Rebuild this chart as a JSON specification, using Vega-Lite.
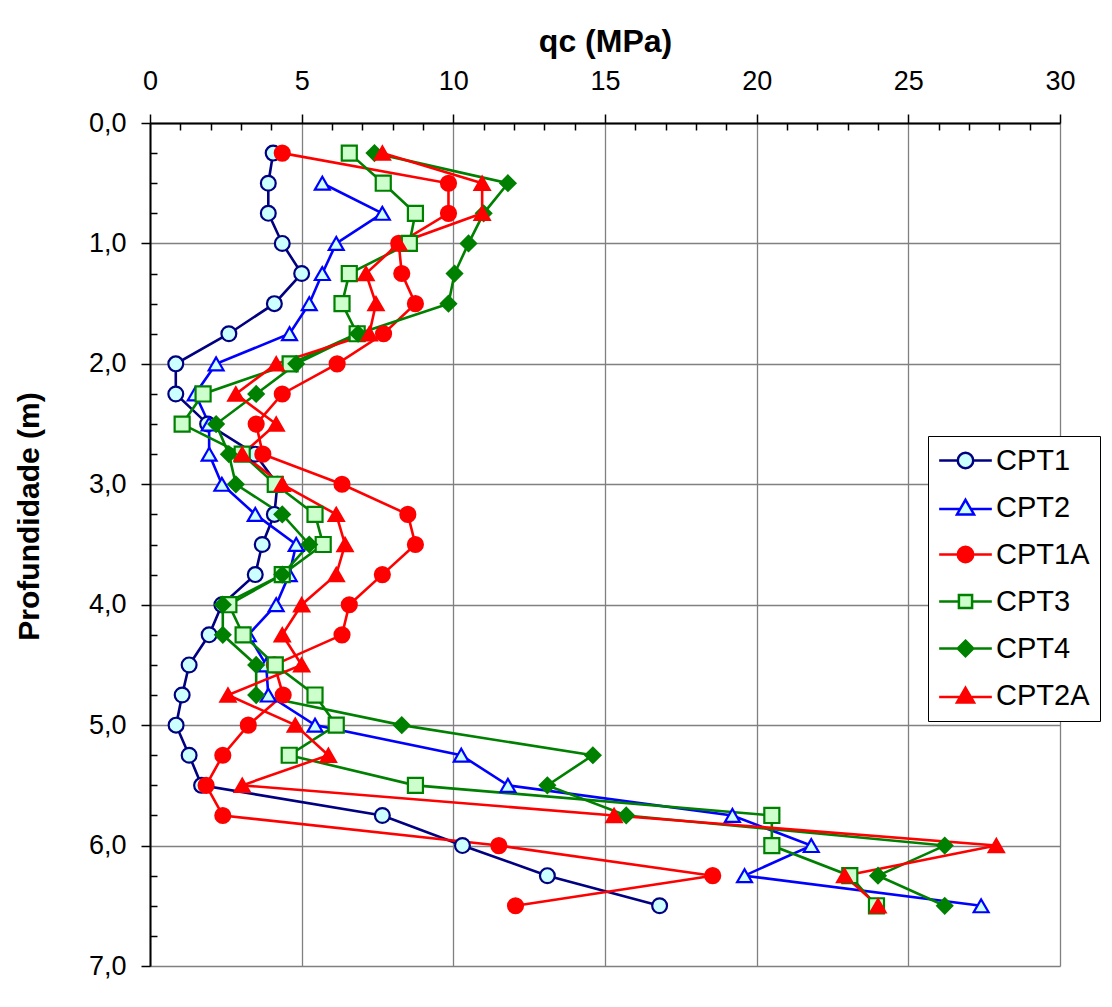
{
  "$schema": "https://vega.github.io/schema/vega-lite/v6.json",
  "width": 910,
  "height": 843,
  "autosize": {"type": "none"},
  "padding": {"left": 150, "top": 123, "right": 52, "bottom": 41},
  "background": "white",
  "config": {
    "font": "Liberation Sans",
    "view": {"stroke": null},
    "legend": {
      "orient": "none",
      "legendX": 778,
      "legendY": 313,
      "title": null,
      "labelFontSize": 29,
      "labelFont": "Liberation Sans",
      "labelColor": "black",
      "labelExpr": "datum.label + '\u00a0\u00a0\u00a0'",
      "symbolSize": 240,
      "symbolStrokeWidth": 2.5,
      "strokeColor": "black",
      "fillColor": "white",
      "padding": 10,
      "rowPadding": 17,
      "symbolOffset": 13,
      "labelOffset": 16
    }
  },
  "data": {
    "values": [
      {"s": "CPT1", "d": 0.25, "q": 4.06}, {"s": "CPT1", "d": 0.5, "q": 3.9}, {"s": "CPT1", "d": 0.75, "q": 3.9}, {"s": "CPT1", "d": 1.0, "q": 4.36}, {"s": "CPT1", "d": 1.25, "q": 5.0}, {"s": "CPT1", "d": 1.5, "q": 4.1}, {"s": "CPT1", "d": 1.75, "q": 2.6}, {"s": "CPT1", "d": 2.0, "q": 0.85}, {"s": "CPT1", "d": 2.25, "q": 0.85}, {"s": "CPT1", "d": 2.5, "q": 1.9}, {"s": "CPT1", "d": 2.75, "q": 3.47}, {"s": "CPT1", "d": 3.0, "q": 4.2}, {"s": "CPT1", "d": 3.25, "q": 4.1}, {"s": "CPT1", "d": 3.5, "q": 3.7}, {"s": "CPT1", "d": 3.75, "q": 3.47}, {"s": "CPT1", "d": 4.0, "q": 2.37}, {"s": "CPT1", "d": 4.25, "q": 1.95}, {"s": "CPT1", "d": 4.5, "q": 1.29}, {"s": "CPT1", "d": 4.75, "q": 1.06}, {"s": "CPT1", "d": 5.0, "q": 0.86}, {"s": "CPT1", "d": 5.25, "q": 1.29}, {"s": "CPT1", "d": 5.5, "q": 1.7}, {"s": "CPT1", "d": 5.75, "q": 7.66}, {"s": "CPT1", "d": 6.0, "q": 10.3}, {"s": "CPT1", "d": 6.25, "q": 13.1}, {"s": "CPT1", "d": 6.5, "q": 16.8},
      {"s": "CPT2", "d": 0.5, "q": 5.68}, {"s": "CPT2", "d": 0.75, "q": 7.66}, {"s": "CPT2", "d": 1.0, "q": 6.14}, {"s": "CPT2", "d": 1.25, "q": 5.68}, {"s": "CPT2", "d": 1.5, "q": 5.25}, {"s": "CPT2", "d": 1.75, "q": 4.6}, {"s": "CPT2", "d": 2.0, "q": 2.18}, {"s": "CPT2", "d": 2.25, "q": 1.49}, {"s": "CPT2", "d": 2.5, "q": 1.95}, {"s": "CPT2", "d": 2.75, "q": 1.95}, {"s": "CPT2", "d": 3.0, "q": 2.37}, {"s": "CPT2", "d": 3.25, "q": 3.47}, {"s": "CPT2", "d": 3.5, "q": 4.82}, {"s": "CPT2", "d": 3.75, "q": 4.59}, {"s": "CPT2", "d": 4.0, "q": 4.16}, {"s": "CPT2", "d": 4.25, "q": 3.24}, {"s": "CPT2", "d": 4.5, "q": 3.83}, {"s": "CPT2", "d": 4.75, "q": 3.9}, {"s": "CPT2", "d": 5.0, "q": 5.44}, {"s": "CPT2", "d": 5.25, "q": 10.26}, {"s": "CPT2", "d": 5.5, "q": 11.8}, {"s": "CPT2", "d": 5.75, "q": 19.2}, {"s": "CPT2", "d": 6.0, "q": 21.8}, {"s": "CPT2", "d": 6.25, "q": 19.6}, {"s": "CPT2", "d": 6.5, "q": 27.4},
      {"s": "CPT1A", "d": 0.25, "q": 4.36}, {"s": "CPT1A", "d": 0.5, "q": 9.84}, {"s": "CPT1A", "d": 0.75, "q": 9.84}, {"s": "CPT1A", "d": 1.0, "q": 8.2}, {"s": "CPT1A", "d": 1.25, "q": 8.3}, {"s": "CPT1A", "d": 1.5, "q": 8.75}, {"s": "CPT1A", "d": 1.75, "q": 7.7}, {"s": "CPT1A", "d": 2.0, "q": 6.17}, {"s": "CPT1A", "d": 2.25, "q": 4.36}, {"s": "CPT1A", "d": 2.5, "q": 3.5}, {"s": "CPT1A", "d": 2.75, "q": 3.72}, {"s": "CPT1A", "d": 3.0, "q": 6.33}, {"s": "CPT1A", "d": 3.25, "q": 8.5}, {"s": "CPT1A", "d": 3.5, "q": 8.75}, {"s": "CPT1A", "d": 3.75, "q": 7.66}, {"s": "CPT1A", "d": 4.0, "q": 6.57}, {"s": "CPT1A", "d": 4.25, "q": 6.33}, {"s": "CPT1A", "d": 4.5, "q": 4.1}, {"s": "CPT1A", "d": 4.75, "q": 4.39}, {"s": "CPT1A", "d": 5.0, "q": 3.24}, {"s": "CPT1A", "d": 5.25, "q": 2.4}, {"s": "CPT1A", "d": 5.5, "q": 1.85}, {"s": "CPT1A", "d": 5.75, "q": 2.4}, {"s": "CPT1A", "d": 6.0, "q": 11.5}, {"s": "CPT1A", "d": 6.25, "q": 18.55}, {"s": "CPT1A", "d": 6.5, "q": 12.05},
      {"s": "CPT3", "d": 0.25, "q": 6.57}, {"s": "CPT3", "d": 0.5, "q": 7.69}, {"s": "CPT3", "d": 0.75, "q": 8.75}, {"s": "CPT3", "d": 1.0, "q": 8.55}, {"s": "CPT3", "d": 1.25, "q": 6.57}, {"s": "CPT3", "d": 1.5, "q": 6.33}, {"s": "CPT3", "d": 1.75, "q": 6.83}, {"s": "CPT3", "d": 2.0, "q": 4.62}, {"s": "CPT3", "d": 2.25, "q": 1.75}, {"s": "CPT3", "d": 2.5, "q": 1.06}, {"s": "CPT3", "d": 2.75, "q": 3.04}, {"s": "CPT3", "d": 3.0, "q": 4.13}, {"s": "CPT3", "d": 3.25, "q": 5.44}, {"s": "CPT3", "d": 3.5, "q": 5.71}, {"s": "CPT3", "d": 3.75, "q": 4.36}, {"s": "CPT3", "d": 4.0, "q": 2.6}, {"s": "CPT3", "d": 4.25, "q": 3.07}, {"s": "CPT3", "d": 4.5, "q": 4.13}, {"s": "CPT3", "d": 4.75, "q": 5.44}, {"s": "CPT3", "d": 5.0, "q": 6.14}, {"s": "CPT3", "d": 5.25, "q": 4.59}, {"s": "CPT3", "d": 5.5, "q": 8.75}, {"s": "CPT3", "d": 5.75, "q": 20.5}, {"s": "CPT3", "d": 6.0, "q": 20.5}, {"s": "CPT3", "d": 6.25, "q": 23.07}, {"s": "CPT3", "d": 6.5, "q": 23.95},
      {"s": "CPT4", "d": 0.25, "q": 7.4}, {"s": "CPT4", "d": 0.5, "q": 11.8}, {"s": "CPT4", "d": 0.75, "q": 11.0}, {"s": "CPT4", "d": 1.0, "q": 10.5}, {"s": "CPT4", "d": 1.25, "q": 10.04}, {"s": "CPT4", "d": 1.5, "q": 9.84}, {"s": "CPT4", "d": 1.75, "q": 6.86}, {"s": "CPT4", "d": 2.0, "q": 4.82}, {"s": "CPT4", "d": 2.25, "q": 3.5}, {"s": "CPT4", "d": 2.5, "q": 2.18}, {"s": "CPT4", "d": 2.75, "q": 2.6}, {"s": "CPT4", "d": 3.0, "q": 2.83}, {"s": "CPT4", "d": 3.25, "q": 4.36}, {"s": "CPT4", "d": 3.5, "q": 5.25}, {"s": "CPT4", "d": 3.75, "q": 4.36}, {"s": "CPT4", "d": 4.0, "q": 2.4}, {"s": "CPT4", "d": 4.25, "q": 2.4}, {"s": "CPT4", "d": 4.5, "q": 3.5}, {"s": "CPT4", "d": 4.75, "q": 3.5}, {"s": "CPT4", "d": 5.0, "q": 8.3}, {"s": "CPT4", "d": 5.25, "q": 14.6}, {"s": "CPT4", "d": 5.5, "q": 13.1}, {"s": "CPT4", "d": 5.75, "q": 15.7}, {"s": "CPT4", "d": 6.0, "q": 26.2}, {"s": "CPT4", "d": 6.25, "q": 24.0}, {"s": "CPT4", "d": 6.5, "q": 26.2},
      {"s": "CPT2A", "d": 0.25, "q": 7.66}, {"s": "CPT2A", "d": 0.5, "q": 10.95}, {"s": "CPT2A", "d": 0.75, "q": 10.95}, {"s": "CPT2A", "d": 1.0, "q": 8.2}, {"s": "CPT2A", "d": 1.25, "q": 7.12}, {"s": "CPT2A", "d": 1.5, "q": 7.45}, {"s": "CPT2A", "d": 1.75, "q": 7.23}, {"s": "CPT2A", "d": 2.0, "q": 4.16}, {"s": "CPT2A", "d": 2.25, "q": 2.83}, {"s": "CPT2A", "d": 2.5, "q": 4.16}, {"s": "CPT2A", "d": 2.75, "q": 3.04}, {"s": "CPT2A", "d": 3.0, "q": 4.36}, {"s": "CPT2A", "d": 3.25, "q": 6.14}, {"s": "CPT2A", "d": 3.5, "q": 6.43}, {"s": "CPT2A", "d": 3.75, "q": 6.14}, {"s": "CPT2A", "d": 4.0, "q": 5.0}, {"s": "CPT2A", "d": 4.25, "q": 4.36}, {"s": "CPT2A", "d": 4.5, "q": 5.0}, {"s": "CPT2A", "d": 4.75, "q": 2.57}, {"s": "CPT2A", "d": 5.0, "q": 4.79}, {"s": "CPT2A", "d": 5.25, "q": 5.88}, {"s": "CPT2A", "d": 5.5, "q": 3.04}, {"s": "CPT2A", "d": 5.75, "q": 15.3}, {"s": "CPT2A", "d": 6.0, "q": 27.9}, {"s": "CPT2A", "d": 6.25, "q": 22.9}, {"s": "CPT2A", "d": 6.5, "q": 24.0}
    ]
  },
  "encoding": {
    "x": {
      "field": "q",
      "type": "quantitative",
      "scale": {"domain": [0, 30], "nice": false, "zero": false},
      "axis": {
        "orient": "top",
        "values": [0,1,2,3,4,5,6,7,8,9,10,11,12,13,14,15,16,17,18,19,20,21,22,23,24,25,26,27,28,29,30],
        "labelExpr": "datum.value % 5 === 0 ? datum.label : ''",
        "labelFontSize": 27,
        "labelColor": "black",
        "labelBaseline": "alphabetic",
        "labelPadding": 25,
        "labelFlush": false,
        "labelOverlap": false,
        "tickColor": "black",
        "tickWidth": 1.5,
        "tickSize": {"condition": {"test": "datum.value % 5 === 0", "value": 9}, "value": -7},
        "domainColor": "black",
        "domainWidth": 2,
        "grid": true,
        "gridColor": "#808080",
        "gridWidth": 1.3,
        "gridOpacity": {"condition": {"test": "datum.value % 5 === 0", "value": 1}, "value": 0},
        "title": "qc (MPa)",
        "titleFontSize": 32,
        "titleFontWeight": "bold",
        "titleColor": "black",
        "titleBaseline": "alphabetic",
        "titleY": -72
      }
    },
    "y": {
      "field": "d",
      "type": "quantitative",
      "scale": {"domain": [0, 7], "nice": false, "reverse": true},
      "axis": {
        "orient": "left",
        "values": [0,0.25,0.5,0.75,1,1.25,1.5,1.75,2,2.25,2.5,2.75,3,3.25,3.5,3.75,4,4.25,4.5,4.75,5,5.25,5.5,5.75,6,6.25,6.5,6.75,7],
        "labelExpr": "datum.value % 1 === 0 ? replace(format(datum.value, '.1f'), '.', ',') : ''",
        "labelFontSize": 27,
        "labelColor": "black",
        "labelPadding": 15,
        "labelFlush": false,
        "labelOverlap": false,
        "tickColor": "black",
        "tickWidth": 1.5,
        "tickSize": {"condition": {"test": "datum.value % 1 === 0", "value": 9}, "value": -7},
        "domainColor": "black",
        "domainWidth": 2,
        "grid": true,
        "gridColor": "#808080",
        "gridWidth": 1.3,
        "gridOpacity": {"condition": {"test": "datum.value % 1 === 0", "value": 1}, "value": 0},
        "title": "Profundidade (m)",
        "titleFontSize": 30,
        "titleFontWeight": "bold",
        "titleColor": "black",
        "titleAngle": -90,
        "titleAlign": "center",
        "titleBaseline": "middle",
        "titleX": -121,
        "titleY": 393
      }
    }
  },
  "layer": [
    {
      "mark": {"type": "line", "strokeWidth": 2.6},
      "encoding": {
        "stroke": {
          "field": "s", "type": "nominal", "legend": null,
          "scale": {"domain": ["CPT1", "CPT2", "CPT1A", "CPT3", "CPT4", "CPT2A"], "range": ["#000080", "#0000ff", "#ff0000", "#008000", "#008000", "#ff0000"]}
        },
        "order": {"field": "d", "type": "quantitative"}
      }
    },
    {
      "mark": {"type": "point", "filled": false, "strokeWidth": 2.2, "opacity": 1},
      "encoding": {
        "stroke": {
          "field": "s", "type": "nominal", "legend": null,
          "scale": {"domain": ["CPT1", "CPT2", "CPT1A", "CPT3", "CPT4", "CPT2A"], "range": ["#000080", "#0000ff", "#ff0000", "#008000", "#008000", "#ff0000"]}
        },
        "fill": {
          "field": "s", "type": "nominal", "legend": null,
          "scale": {"domain": ["CPT1", "CPT2", "CPT1A", "CPT3", "CPT4", "CPT2A"], "range": ["#ccffff", "#ccffff", "#ff0000", "#ccffcc", "#008000", "#ff0000"]}
        },
        "shape": {
          "field": "s", "type": "nominal", "legend": null,
          "scale": {"domain": ["CPT1", "CPT2", "CPT1A", "CPT3", "CPT4", "CPT2A"], "range": ["circle", "triangle-up", "circle", "square", "diamond", "triangle-up"]}
        },
        "size": {
          "field": "s", "type": "nominal", "legend": null,
          "scale": {"domain": ["CPT1", "CPT2", "CPT1A", "CPT3", "CPT4", "CPT2A"], "range": [220, 230, 240, 180, 200, 250]}
        }
      }
    },
    {
      "transform": [{"filter": "false"}],
      "mark": {"type": "point", "filled": false, "strokeWidth": 2.5, "opacity": 1},
      "encoding": {
        "stroke": {
          "field": "s", "type": "nominal",
          "scale": {"domain": ["CPT1", "CPT2", "CPT1A", "CPT3", "CPT4", "CPT2A"], "range": ["#000080", "#0000ff", "#ff0000", "#008000", "#008000", "#ff0000"]}
        },
        "fill": {
          "field": "s", "type": "nominal",
          "scale": {"domain": ["CPT1", "CPT2", "CPT1A", "CPT3", "CPT4", "CPT2A"], "range": ["#ccffff", "#ccffff", "#ff0000", "#ccffcc", "#008000", "#ff0000"]}
        },
        "shape": {
          "field": "s", "type": "nominal",
          "scale": {"domain": ["CPT1", "CPT2", "CPT1A", "CPT3", "CPT4", "CPT2A"], "range": [
            "M-3.4,0H-1M1,0H3.4M-1,0A1,1 0 1,0 1,0A1,1 0 1,0 -1,0Z",
            "M-3.4,0.2H-0.7M0.7,0.2H3.4M0,-1L1.1,0.9L-1.1,0.9Z",
            "M-3.4,0H-1M1,0H3.4M-1,0A1,1 0 1,0 1,0A1,1 0 1,0 -1,0Z",
            "M-3.4,0H-0.85M0.85,0H3.4M-0.85,-0.85H0.85V0.85H-0.85Z",
            "M-3.4,0H-1M1,0H3.4M0,-1L1,0L0,1L-1,0Z",
            "M-3.4,0.2H-0.7M0.7,0.2H3.4M0,-1L1.1,0.9L-1.1,0.9Z"
          ]}
        }
      }
    }
  ],
  "resolve": {"scale": {"stroke": "independent", "fill": "independent", "shape": "independent", "size": "independent"}}
}
